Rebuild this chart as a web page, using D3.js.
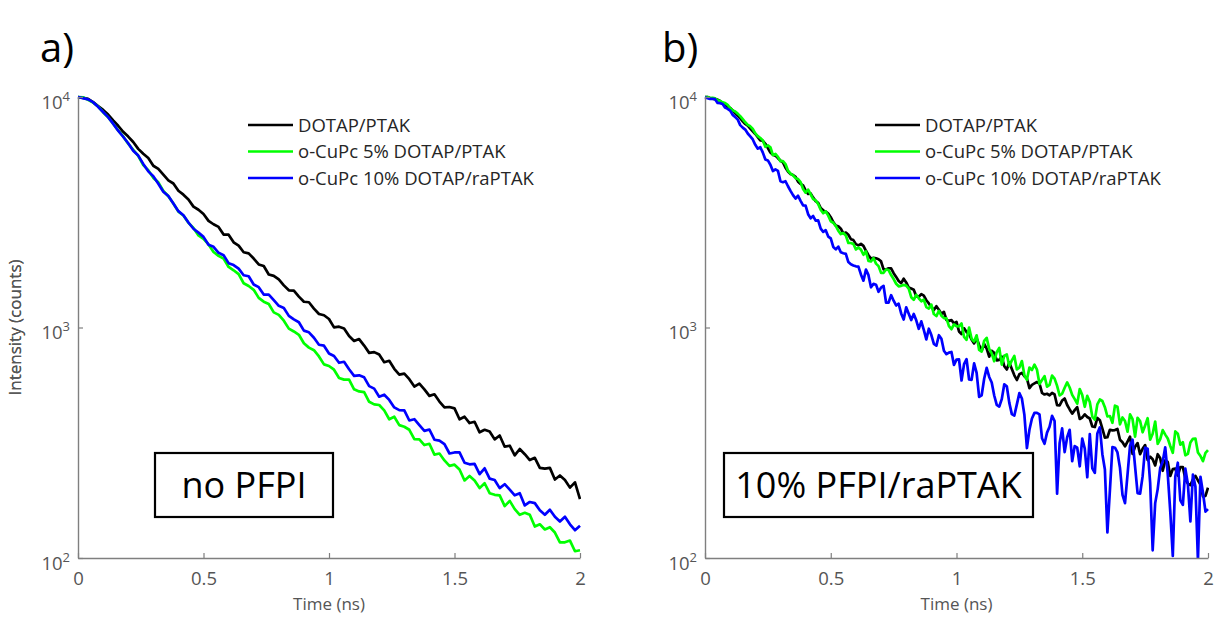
<!DOCTYPE html>
<html>
<head>
<meta charset="utf-8">
<script src="https://cdn.jsdelivr.net/npm/d3@7"></script>
<style>
  body { margin: 0; background: #fff; }
  svg text { font-family: "Open Sans", "Noto Sans", sans-serif; }
</style>
</head>
<body>
<svg id="chart" width="1214" height="617"></svg>
<script>
// Time-resolved fluorescence decays from 0 to 2 ns
// panel a sampled every 0.02 ns, panel b every 0.01 ns
const timeNsA = d3.range(101).map(i => +(i * 0.02).toFixed(2));
const timeNsB = d3.range(201).map(i => +(i * 0.01).toFixed(2));

const seriesNames = ["DOTAP/PTAK", "o-CuPc 5% DOTAP/PTAK", "o-CuPc 10% DOTAP/raPTAK"];
const seriesColors = ["#000000", "#00ff00", "#0000ff"];
const xTicks = [0, 0.5, 1, 1.5, 2];
const yTicks = [100, 1000, 10000];

// panel a) no PFPI  (counts)
const noPfpiDotap = [
  9990, 9906, 9811, 9501, 9130, 8788, 8394, 7913, 7503, 7064,
  6734, 6382, 5958, 5672, 5440, 5032, 4878, 4603, 4349, 4215,
  3918, 3769, 3594, 3345, 3243, 3106, 2901, 2805, 2732, 2531,
  2528, 2342, 2265, 2120, 2096, 1992, 1878, 1848, 1699, 1675,
  1616, 1523, 1450, 1444, 1361, 1293, 1287, 1208, 1144, 1130,
  1089, 1001, 1008, 991, 918, 874, 891, 835, 776, 782,
  763, 707, 717, 662, 625, 631, 597, 554, 571, 539,
  505, 513, 477, 450, 452, 446, 400, 410, 385, 390,
  351, 360, 354, 327, 340, 304, 307, 279, 297, 282,
  266, 272, 246, 244, 246, 219, 228, 218, 202, 213,
  180
];
const noPfpiCuPc5 = [
  10000, 9976, 9716, 9471, 9096, 8591, 8171, 7652, 7160, 6741,
  6275, 5901, 5553, 5063, 4815, 4458, 4264, 3912, 3709, 3453,
  3182, 3061, 2845, 2704, 2508, 2424, 2293, 2126, 2046, 1989,
  1831, 1771, 1704, 1556, 1514, 1457, 1344, 1294, 1264, 1163,
  1134, 1070, 989, 961, 930, 854, 818, 797, 749, 692,
  681, 656, 604, 594, 594, 539, 528, 524, 476, 464,
  461, 437, 400, 410, 377, 371, 360, 328, 327, 309,
  313, 281, 284, 265, 251, 254, 242, 217, 227, 217,
  201, 211, 191, 188, 187, 168, 177, 163, 154, 157,
  154, 137, 140, 133, 136, 129, 117, 117, 119, 107,
  108
];
const noPfpiCuPc10 = [
  9995, 9886, 9760, 9495, 9064, 8604, 8180, 7660, 7149, 6724,
  6300, 5840, 5569, 5125, 4758, 4532, 4207, 3883, 3720, 3453,
  3197, 3070, 2854, 2681, 2580, 2473, 2286, 2240, 2109, 2060,
  1902, 1866, 1801, 1685, 1668, 1537, 1496, 1390, 1389, 1314,
  1242, 1216, 1123, 1084, 1054, 969, 953, 903, 842, 834,
  771, 752, 703, 710, 659, 617, 620, 608, 557, 543,
  501, 511, 485, 450, 438, 437, 395, 400, 377, 356,
  361, 326, 323, 312, 284, 287, 287, 259, 255, 256,
  231, 245, 221, 218, 201, 209, 198, 187, 191, 169,
  175, 173, 161, 154, 162, 151, 144, 151, 140, 132,
  138
];

// panel b) 10% PFPI/raPTAK  (counts)
const pfpiDotap = [
  9990, 9995, 9901, 9839, 9789, 9736, 9606, 9409, 9229, 9053,
  8966, 8738, 8496, 8301, 8096, 7840, 7637, 7507, 7300, 7099,
  6910, 6697, 6479, 6458, 6267, 6002, 5743, 5623, 5567, 5428,
  5299, 5198, 4935, 4754, 4632, 4589, 4507, 4291, 4198, 4134,
  3932, 3799, 3818, 3660, 3533, 3475, 3295, 3223, 3180, 3122,
  3009, 2864, 2767, 2751, 2684, 2558, 2583, 2525, 2417, 2394,
  2300, 2272, 2305, 2259, 2152, 2058, 1990, 2006, 1996, 1978,
  1937, 1787, 1787, 1807, 1805, 1721, 1658, 1591, 1558, 1628,
  1569, 1489, 1476, 1458, 1365, 1359, 1396, 1374, 1313, 1272,
  1225, 1191, 1237, 1194, 1146, 1169, 1078, 1069, 1076, 1042,
  1057, 961, 936, 992, 955, 937, 886, 853, 898, 840,
  792, 850, 810, 747, 792, 777, 720, 724, 748, 679,
  657, 705, 660, 620, 592, 627, 636, 614, 601, 546,
  564, 572, 580, 571, 520, 512, 516, 508, 520, 512,
  460, 459, 482, 492, 461, 441, 423, 438, 451, 401,
  407, 420, 409, 403, 372, 370, 405, 396, 364, 333,
  334, 360, 358, 359, 363, 326, 318, 305, 320, 336,
  283, 304, 315, 282, 298, 309, 266, 275, 268, 252,
  282, 271, 239, 265, 261, 227, 243, 244, 228, 248,
  248, 220, 210, 207, 219, 227, 217, 208, 185, 186,
  202
];
const pfpiCuPc5 = [
  10000, 9998, 9884, 9927, 9870, 9681, 9609, 9477, 9410, 9249,
  8944, 8752, 8647, 8468, 8263, 8010, 7767, 7567, 7463, 7262,
  6956, 6769, 6642, 6483, 6078, 6171, 6054, 5597, 5660, 5503,
  5265, 5273, 5120, 4788, 4650, 4575, 4444, 4406, 4274, 3990,
  3847, 3963, 3786, 3608, 3561, 3436, 3241, 3131, 3189, 3056,
  2891, 2847, 2758, 2630, 2543, 2569, 2508, 2326, 2326, 2302,
  2181, 2220, 2176, 2069, 2138, 1945, 1934, 2001, 1893, 1846,
  1726, 1727, 1786, 1775, 1688, 1622, 1548, 1509, 1516, 1530,
  1520, 1475, 1353, 1319, 1386, 1339, 1300, 1320, 1225, 1208,
  1256, 1144, 1121, 1180, 1125, 1099, 1095, 1013, 983, 1032,
  1013, 1010, 1041, 910, 884, 1000, 893, 870, 925, 799,
  786, 875, 902, 808, 772, 714, 781, 815, 690, 754,
  764, 681, 720, 752, 658, 670, 715, 620, 593, 670,
  654, 690, 656, 569, 592, 615, 554, 564, 619, 600,
  558, 507, 516, 548, 578, 549, 510, 489, 467, 541,
  509, 453, 505, 475, 410, 398, 464, 487, 480, 451,
  411, 413, 386, 458, 453, 380, 407, 393, 353, 420,
  400, 336, 406, 393, 351, 376, 404, 326, 346, 391,
  313, 328, 359, 343, 330, 306, 286, 354, 346, 310,
  318, 279, 283, 317, 329, 330, 287, 277, 263, 286,
  294
];
const pfpiCuPc10 = [
  9990, 9874, 9812, 9817, 9783, 9428, 9406, 9330, 8994, 8879,
  8725, 8364, 8180, 7989, 7549, 7365, 7221, 6944, 6749, 6543,
  6202, 5970, 6056, 5736, 5358, 5306, 5082, 4775, 4853, 4780,
  4310, 4271, 4310, 4100, 3913, 3753, 3626, 3730, 3544, 3384,
  3378, 3100, 2976, 3045, 2909, 2914, 2683, 2600, 2644, 2480,
  2434, 2235, 2184, 2244, 2119, 2100, 2087, 1922, 1880, 1859,
  1843, 1837, 1700, 1596, 1785, 1687, 1494, 1546, 1534, 1429,
  1489, 1516, 1281, 1283, 1381, 1307, 1246, 1268, 1151, 1083,
  1223, 1148, 1078, 1145, 1075, 987, 1063, 976, 888, 988,
  927, 849, 834, 926, 894, 793, 766, 778, 783, 688,
  725, 727, 589, 693, 729, 595, 593, 699, 635, 500,
  508, 599, 668, 610, 577, 507, 462, 454, 489, 567,
  556, 471, 421, 415, 464, 519, 492, 417, 300, 360,
  403, 426, 426, 420, 331, 313, 350, 371, 414, 393,
  190, 315, 365, 288, 334, 360, 263, 306, 301, 250,
  330, 298, 224, 345, 245, 234, 347, 369, 282, 242,
  129, 197, 303, 301, 287, 246, 188, 173, 230, 307,
  326, 250, 191, 190, 226, 301, 298, 212, 108, 173,
  199, 246, 262, 302, 231, 159, 102, 226, 259, 178,
  170, 244, 209, 144, 230, 204, 98, 225, 192, 159,
  163
];

const svg = d3.select("#chart");
const defs = svg.append("defs");
const axisColor = "#7f7f7f";
const tickTextColor = "#555555";
const plotTop = 97, plotBottom = 558;

const panels = [
  { tag: "a)", note: "no PFPI", left: 78, right: 580, tagX: 40, noteX: [155, 333],
    times: timeNsA, series: [noPfpiDotap, noPfpiCuPc5, noPfpiCuPc10] },
  { tag: "b)", note: "10% PFPI/raPTAK", left: 705, right: 1208, tagX: 662, noteX: [724, 1033],
    times: timeNsB, series: [pfpiDotap, pfpiCuPc5, pfpiCuPc10] }
];

panels.forEach(function(p, pi) {
  const width = p.right - p.left;
  const height = plotBottom - plotTop;

  const g = svg.append("g")
    .attr("transform", `translate(${p.left},${plotTop})`);

  const x = d3.scaleLinear().domain([0, 2]).range([0, width]);
  const y = d3.scaleLog().domain([100, 10000]).range([height, 0]);

  // clip the decays to the axes box
  defs.append("clipPath").attr("id", "clip" + pi)
    .append("rect")
    .attr("x", -1).attr("y", -2)
    .attr("width", width + 2).attr("height", height + 3);

  const line = d3.line()
    .x((d, i) => x(p.times[i]))
    .y(d => y(d));

  const curves = g.append("g").attr("clip-path", `url(#clip${pi})`);
  p.series.forEach(function(vals, si) {
    curves.append("path")
      .datum(vals)
      .attr("d", line)
      .attr("fill", "none")
      .attr("stroke", seriesColors[si])
      .attr("stroke-width", 2.7)
      .attr("stroke-linejoin", "round");
  });

  // x axis, ticks pointing inward
  const xAxisGroup = g.append("g")
    .attr("transform", `translate(0,${height})`)
    .call(d3.axisBottom(x)
      .tickValues(xTicks)
      .tickSizeInner(-5)
      .tickSizeOuter(0)
      .tickPadding(14)
      .tickFormat(d3.format("~g")));

  // y axis, log with 10^n labels
  const yAxisGroup = g.append("g")
    .call(d3.axisLeft(y)
      .tickValues(yTicks)
      .tickSizeInner(-5)
      .tickSizeOuter(0)
      .tickPadding(8)
      .tickFormat(() => ""));

  [xAxisGroup, yAxisGroup].forEach(function(ax) {
    ax.attr("font-family", null);
    ax.select(".domain").attr("stroke", axisColor).attr("stroke-width", 1.4);
    ax.selectAll(".tick line").attr("stroke", axisColor).attr("stroke-width", 1.2);
    ax.selectAll(".tick text")
      .attr("fill", tickTextColor)
      .attr("font-size", "18.5px");
  });

  yAxisGroup.selectAll(".tick text")
    .attr("dy", "0.6em")
    .each(function(d) {
      const t = d3.select(this);
      t.append("tspan").text("10");
      t.append("tspan")
        .attr("dy", "-0.62em")
        .attr("font-size", "13px")
        .text(Math.round(Math.log10(d)));
    });

  // axis titles
  g.append("text")
    .attr("x", width / 2)
    .attr("y", height + 52)
    .attr("text-anchor", "middle")
    .attr("font-size", "17px")
    .attr("fill", tickTextColor)
    .text("Time (ns)");

  g.append("text")
    .attr("transform", `translate(${-p.left + 21},${height / 2}) rotate(-90)`)
    .attr("text-anchor", "middle")
    .attr("font-size", "17px")
    .attr("fill", tickTextColor)
    .text("Intensity (counts)");

  // legend
  const legend = g.append("g").attr("transform", "translate(170,28)");
  const items = legend.selectAll(".legend-item")
    .data(seriesNames)
    .enter()
    .append("g")
    .attr("class", "legend-item")
    .attr("transform", (d, i) => `translate(0,${i * 26.5})`);

  items.append("line")
    .attr("x1", 0).attr("x2", 45)
    .attr("stroke", (d, i) => seriesColors[i])
    .attr("stroke-width", 2.6);

  items.append("text")
    .attr("x", 50)
    .attr("dy", "0.36em")
    .attr("font-size", "18.5px")
    .attr("fill", "#262626")
    .text(d => d);

  // annotation box
  const noteW = p.noteX[1] - p.noteX[0];
  const note = svg.append("g").attr("transform", `translate(${p.noteX[0]},453)`);
  note.append("rect")
    .attr("width", noteW).attr("height", 64)
    .attr("fill", "#fff")
    .attr("stroke", "#000")
    .attr("stroke-width", 2.2);
  note.append("text")
    .attr("x", noteW / 2)
    .attr("y", 32)
    .attr("dy", "0.36em")
    .attr("text-anchor", "middle")
    .attr("font-size", "36px")
    .attr("fill", "#000")
    .text(p.note);

  // panel tag
  svg.append("text")
    .attr("x", p.tagX)
    .attr("y", 62)
    .attr("font-size", "40px")
    .attr("fill", "#000")
    .text(p.tag);
});
</script>
</body>
</html>
